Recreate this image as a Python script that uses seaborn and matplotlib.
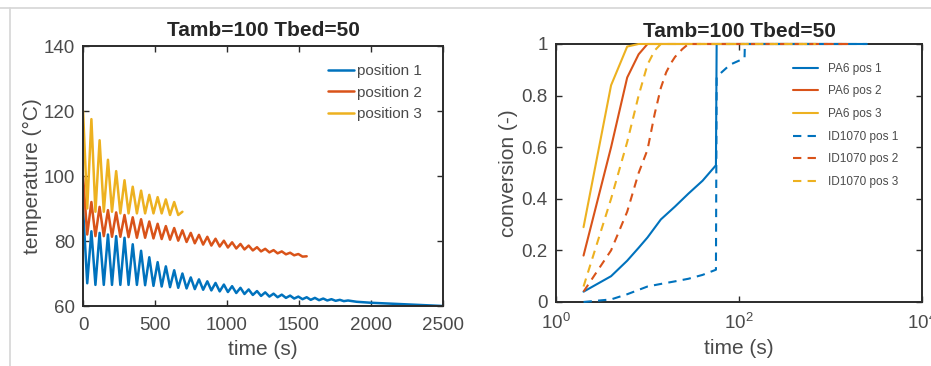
import pandas as pd
import seaborn as sns
import matplotlib
matplotlib.use("Agg")
import matplotlib.pyplot as plt
from matplotlib.lines import Line2D
from matplotlib.ticker import NullLocator

# Temperature traces, sampled at peaks/troughs (one printing pass every ~57 s)
t_half = [0, 29, 58, 86, 115, 144, 173, 201, 230, 259, 288, 316, 345, 374, 403,
          431, 460, 489, 518, 546, 575, 604, 633, 661, 690, 719, 748, 776, 805,
          834, 863, 891, 920, 949, 978, 1006, 1035, 1064, 1093, 1121, 1150, 1179,
          1208, 1236, 1265, 1294, 1323, 1351, 1380, 1409, 1438, 1466, 1495, 1524,
          1553, 1581, 1610, 1639, 1668, 1696, 1725, 1754, 1783, 1811, 1840,
          1900, 2000, 2100, 2200, 2300, 2400, 2500]

temp_pos1 = [90, 67, 83, 66.5, 82.5, 66.5, 82, 66.5, 81.5, 66.5, 81, 66.5, 79, 66.5,
             77, 66.4, 75, 66.2, 73.5, 66, 72.2, 65.8, 71, 65.6, 70, 65.4, 68.8, 65.2,
             68.2, 65.0, 67.6, 64.8, 67.1, 64.5, 66.6, 64.3, 66.1, 64.0, 65.6, 63.7,
             65.1, 63.4, 64.6, 63.1, 64.2, 62.9, 63.8, 62.7, 63.5, 62.5, 63.2, 62.3,
             62.9, 62.1, 62.7, 61.9, 62.5, 61.8, 62.3, 61.7, 62.1, 61.6, 61.9, 61.5,
             61.7, 61.3, 61.0, 60.8, 60.6, 60.4, 60.2, 60.0]

temp_pos2 = [100, 82, 92, 81.5, 90.5, 81.5, 89.5, 81.3, 88.8, 81.3, 88, 81.2, 87.3, 81,
             86.7, 81, 86, 80.8, 85.3, 80.6, 84.6, 80.4, 84, 80.1, 83.3, 79.7, 82.5,
             79.3, 81.9, 78.9, 81.3, 78.6, 80.7, 78.3, 80.1, 78, 79.6, 77.7, 79.1,
             77.4, 78.6, 77.1, 78.1, 76.8, 77.6, 76.5, 77.2, 76.2, 76.8, 75.9, 76.4,
             75.6, 76, 75.2, 75.3]

temp_pos3 = [120, 90, 117.5, 89, 111, 89, 105, 89, 101.5, 88.5, 98.7, 88.5, 96.7, 88.5,
             95.5, 88.5, 94.2, 88.5, 93.5, 88.5, 92.8, 88, 92, 88, 89]

temp_labels = ["position 1", "position 2", "position 3"]

# Conversion curves
pa6_1_t = [2, 4, 6, 8, 10, 14, 20, 28, 40, 56, 57, 2500]
pa6_1 = [0.04, 0.10, 0.16, 0.21, 0.25, 0.32, 0.37, 0.42, 0.47, 0.53, 1.0, 1.0]
pa6_2_t = [2, 4, 6, 8, 10, 1553]
pa6_2 = [0.18, 0.60, 0.87, 0.96, 1.0, 1.0]
pa6_3_t = [2, 4, 6, 8, 690]
pa6_3 = [0.29, 0.84, 0.99, 1.0, 1.0]
id_1_t = [2, 4, 6, 10, 14, 20, 28, 40, 56, 57, 60, 80, 115, 116, 2500]
id_1 = [0.0, 0.01, 0.03, 0.06, 0.07, 0.08, 0.09, 0.105, 0.125, 0.87, 0.88, 0.92,
        0.945, 1.0, 1.0]
id_2_t = [2, 4, 6, 8, 10, 12, 14, 16, 18, 20, 24, 28, 1553]
id_2 = [0.04, 0.20, 0.35, 0.50, 0.59, 0.73, 0.83, 0.89, 0.925, 0.95, 0.98, 1.0, 1.0]
id_3_t = [2, 4, 6, 8, 10, 12, 14, 690]
id_3 = [0.06, 0.40, 0.62, 0.80, 0.92, 0.975, 1.0, 1.0]

conv_labels = ["PA6 pos 1", "PA6 pos 2", "PA6 pos 3",
               "ID1070 pos 1", "ID1070 pos 2", "ID1070 pos 3"]

colors = ["#0072BD", "#D95319", "#EDB120"]

sns.set_theme(style="ticks")
plt.rcParams["font.family"] = ["Liberation Sans", "DejaVu Sans"]
plt.rcParams["mathtext.default"] = "regular"
plt.rcParams["axes.edgecolor"] = "#2b2b2b"
plt.rcParams["axes.linewidth"] = 1.4

fig = plt.figure(figsize=(9.31, 3.66), dpi=100)
ax1 = fig.add_axes([0.0892, 0.1639, 0.3867, 0.7104])
ax2 = fig.add_axes([0.5972, 0.1749, 0.3931, 0.7049])

# faint frame of the scanned figure
fig.add_artist(Line2D([0, 1], [0.977, 0.977], color="#d6d6d6", lw=1.2))
fig.add_artist(Line2D([0.011, 0.011], [0, 0.977], color="#d6d6d6", lw=1.2))

# left: temperature
for vals, lab, col in zip([temp_pos1, temp_pos2, temp_pos3], temp_labels, colors):
    sns.lineplot(x=t_half[:len(vals)], y=vals, color=col, lw=1.8, label=lab,
                 estimator=None, sort=False, ax=ax1)
ax1.set_xlim(0, 2500)
ax1.set_ylim(60, 140)
ax1.set_xticks([0, 500, 1000, 1500, 2000, 2500])
ax1.set_yticks([60, 80, 100, 120, 140])
ax1.set_title("Tamb=100 Tbed=50", fontsize=15, fontweight="bold", pad=7)
ax1.set_xlabel("time (s)", fontsize=15, color="#4a4a4a", va="top")
ax1.set_ylabel("temperature (°C)", fontsize=15, color="#4a4a4a")
ax1.xaxis.set_label_coords(0.5, -0.13)
ax1.yaxis.set_label_coords(-0.115, 0.5)
ax1.legend(loc="upper left", bbox_to_anchor=(0.68, 0.93), frameon=False,
           fontsize=11, handlelength=1.7, handletextpad=0.2, labelspacing=0.48,
           borderpad=0, borderaxespad=0, labelcolor="#4a4a4a")

# right: conversion
conv_sets = [(pa6_1_t, pa6_1), (pa6_2_t, pa6_2), (pa6_3_t, pa6_3),
             (id_1_t, id_1), (id_2_t, id_2), (id_3_t, id_3)]
for i, ((tt, cc), lab) in enumerate(zip(conv_sets, conv_labels)):
    ls = "-" if i < 3 else (0, (4, 3))
    sns.lineplot(x=tt, y=cc, color=colors[i % 3], lw=1.5, linestyle=ls, label=lab,
                 estimator=None, sort=False, ax=ax2, clip_on=False, zorder=3)
ax2.set_xscale("log")
ax2.set_xlim(1, 1e4)
ax2.set_ylim(0, 1)
ax2.set_xticks([1, 100, 10000], ["$10^{0}$", "$10^{2}$", "$10^{4}$"])
ax2.xaxis.set_minor_locator(NullLocator())
ax2.set_yticks([0, 0.2, 0.4, 0.6, 0.8, 1], ["0", "0.2", "0.4", "0.6", "0.8", "1"])
ax2.set_title("Tamb=100 Tbed=50", fontsize=15, fontweight="bold", pad=5)
ax2.set_xlabel("time (s)", fontsize=15, color="#4a4a4a", va="top")
ax2.set_ylabel("conversion (-)", fontsize=15, color="#4a4a4a")
ax2.xaxis.set_label_coords(0.5, -0.145)
ax2.yaxis.set_label_coords(-0.105, 0.5)
ax2.legend(loc="upper left", bbox_to_anchor=(0.648, 0.927), frameon=False,
           fontsize=8.5, handlelength=2.1, handletextpad=0.85, labelspacing=0.9,
           borderpad=0, borderaxespad=0, labelcolor="#4a4a4a")

for ax in (ax1, ax2):
    ax.tick_params(direction="in", top=True, right=True, length=4, width=1,
                   color="#2b2b2b", labelcolor="#4a4a4a", labelsize=13.5, pad=6)
    ax.tick_params(axis="x", pad=8)
    for s in ax.spines.values():
        s.set_visible(True)

fig.savefig("out.png", dpi=100, facecolor="white")
